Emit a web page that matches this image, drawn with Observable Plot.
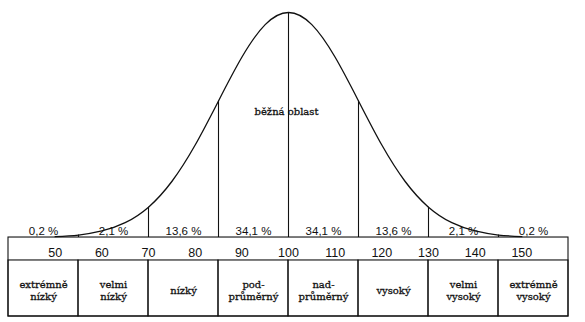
<!DOCTYPE html>
<html><head><meta charset="utf-8">
<script src="https://cdn.jsdelivr.net/npm/d3@7"></script>
<script src="https://cdn.jsdelivr.net/npm/@observablehq/plot@0.6"></script>
<style>
body{margin:0;background:#fff;}
#chart svg{display:block;}
</style>
</head><body><div id="chart"></div>
<script>
// IQ values along the curve and its height (% of peak)
const curveIQ = [50,55,60,65,70,75,80,85,90,95,100,105,110,115,120,125,130,135,140,145,150];
const curveHeight = [0.4,1.1,2.9,6.6,13.5,24.9,41.1,60.7,80.1,94.6,100,94.6,80.1,60.7,41.1,24.9,13.5,6.6,2.9,1.1,0.4];
// band edges (IQ) of the classification table
const bandEdges = [40,55,70,85,100,115,130,145,160];
const bandPercent = ["0,2 %","2,1 %","13,6 %","34,1 %","34,1 %","13,6 %","2,1 %","0,2 %"];
const bandCategory = ["extrémně\nnízký","velmi\nnízký","nízký","pod-\nprůměrný","nad-\nprůměrný","vysoký","velmi\nvysoký","extrémně\nvysoký"];
const tickValues = [50,60,70,80,90,100,110,120,130,140,150];
const centralLabel = "běžná oblast";
const centralIQ = 100;

const TABLE_BOTTOM = -35.1, TABLE_MID = -10.2;
const mid = i => (bandEdges[i] + bandEdges[i+1]) / 2;
const sans = "'Liberation Sans', Arial, sans-serif";
const serif = "'DejaVu Serif', serif";

const chart = Plot.plot({
  width: 585, height: 322,
  marginTop: 0, marginRight: 0, marginBottom: 0, marginLeft: 0,
  x: {domain: [bandEdges[0], bandEdges[bandEdges.length-1]], range: [8, 568], axis: null},
  y: {domain: [TABLE_BOTTOM, 100], range: [316, 12], axis: null},
  style: {background: "#fff", color: "#111"},
  marks: [
    // table
    Plot.rect(bandCategory, {x1: (d,i) => bandEdges[i], x2: (d,i) => bandEdges[i+1], y1: TABLE_BOTTOM, y2: TABLE_MID, fill: "none", stroke: "#111", strokeWidth: 1.1}),
    Plot.rect([0], {x1: bandEdges[0], x2: bandEdges[bandEdges.length-1], y1: TABLE_BOTTOM, y2: 0, fill: "none", stroke: "#111", strokeWidth: 1.1}),
    // vertical dividers under the curve
    Plot.ruleX(bandEdges.slice(1, -1), {x: d => d, y1: 0, y2: d => curveHeight[curveIQ.indexOf(d)], stroke: "#111", strokeWidth: 1.1}),
    // the curve
    Plot.line(curveIQ, {x: d => d, y: (d,i) => curveHeight[i], curve: "natural", stroke: "#111", strokeWidth: 1.3}),
    // percentage labels
    Plot.text(bandPercent, {x: (d,i) => mid(i), y: 0, dy: -6, text: d => d, fontFamily: sans, fontSize: 11.5, fill: "#111", lineAnchor: "middle"}),
    // IQ tick labels
    Plot.text(tickValues, {x: d => d, y: 0, dy: 15.5, text: d => String(d), fontFamily: sans, fontSize: 12.5, fill: "#111", lineAnchor: "middle"}),
    // category labels
    Plot.text(bandCategory, {x: (d,i) => mid(i), y: 0, dy: 53, text: d => d, fontFamily: serif, fontSize: 10, lineHeight: 1.2, fill: "#111", stroke: "#111", strokeWidth: 0.3, lineAnchor: "middle"}),
    // central label
    Plot.text([centralLabel], {x: centralIQ, y: 56, text: d => d, fontFamily: serif, fontSize: 10, fill: "#111", stroke: "#111", strokeWidth: 0.3, lineAnchor: "middle", dx: -2})
  ]
});
document.getElementById("chart").appendChild(chart);
</script>
</body></html>
